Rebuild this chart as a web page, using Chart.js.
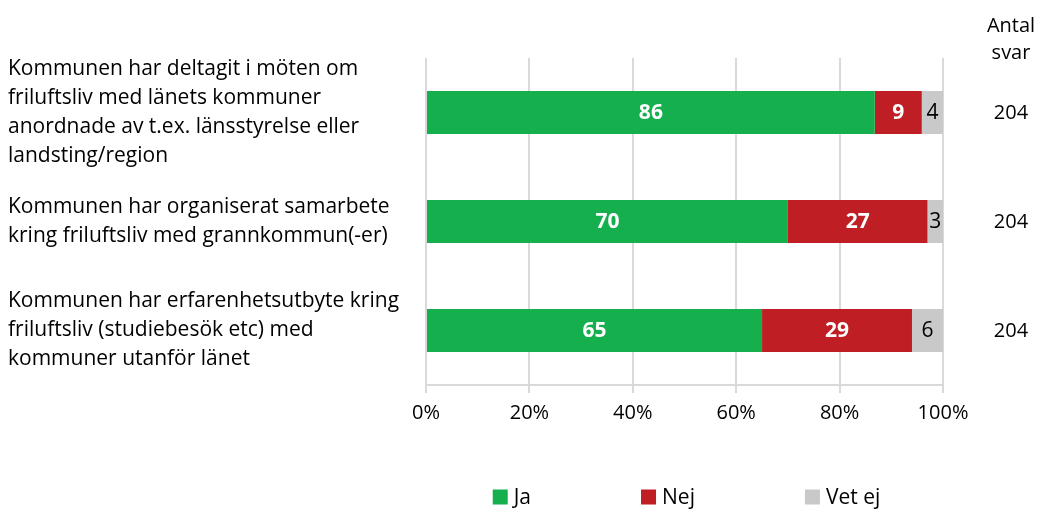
<!DOCTYPE html>
<html>
<head>
<meta charset="utf-8">
<script src="https://cdn.jsdelivr.net/npm/chart.js@4.4.1/dist/chart.umd.min.js"></script>
<style>
  html, body { margin: 0; padding: 0; background: #fff; }
  #wrap { width: 1040px; height: 509px; }
</style>
</head>
<body>
<div id="wrap"><canvas id="chart"></canvas></div>
<script>
const categories = [
  ['Kommunen har deltagit i möten om', 'friluftsliv med länets kommuner', 'anordnade av t.ex. länsstyrelse eller', 'landsting/region'],
  ['Kommunen har organiserat samarbete', 'kring friluftsliv med grannkommun(-er)'],
  ['Kommunen har erfarenhetsutbyte kring', 'friluftsliv (studiebesök etc) med', 'kommuner utanför länet']
];
const seriesNames = ['Ja', 'Nej', 'Vet ej'];
const ja = [86.8, 70, 65];
const nej = [9.1, 27, 29];
const vetEj = [4.1, 3, 6];
const antalSvar = [204, 204, 204];
const antalHeader = ['Antal', 'svar'];

const FONT = '"Open Sans", sans-serif';
const colors = ['#15AF4E', '#BE1E24', '#C9C9C9'];

// numbers inside the bars
const valueLabels = {
  id: 'valueLabels',
  afterDatasetsDraw(chart) {
    const ctx = chart.ctx;
    chart.data.datasets.forEach((ds, i) => {
      chart.getDatasetMeta(i).data.forEach((bar, j) => {
        ctx.save();
        ctx.fillStyle = i < 2 ? '#fff' : '#000';
        ctx.font = (i < 2 ? 'bold ' : '') + '21px ' + FONT;
        ctx.textAlign = 'center';
        ctx.textBaseline = 'middle';
        ctx.fillText(Math.floor(ds.data[j]), (bar.x + bar.base) / 2, bar.y + 1);
        ctx.restore();
      });
    });
  }
};

// "Antal svar" column and custom legend
const extras = {
  id: 'extras',
  afterDraw(chart) {
    const ctx = chart.ctx;
    const area = chart.chartArea;
    const yScale = chart.scales.y;
    const colX = area.right + 68;
    ctx.save();
    ctx.fillStyle = '#000';
    ctx.font = '20px ' + FONT;
    ctx.textAlign = 'center';
    ctx.textBaseline = 'middle';
    antalHeader.forEach((t, k) => ctx.fillText(t, colX, area.top - 32 + k * 27));
    antalSvar.forEach((n, j) => ctx.fillText(n, colX, yScale.getPixelForValue(j) + 1));

    // legend
    ctx.font = '21px ' + FONT;
    ctx.textAlign = 'left';
    const box = 15, gap = 6, spacing = 110;
    const widths = seriesNames.map(s => box + gap + ctx.measureText(s).width);
    const total = widths.reduce((a, b) => a + b, 0) + spacing * (widths.length - 1);
    let x = (area.left + area.right) / 2 - total / 2 + 2;
    const ly = 497;
    seriesNames.forEach((s, i) => {
      ctx.fillStyle = colors[i];
      ctx.fillRect(x, ly - box / 2, box, box);
      ctx.fillStyle = '#000';
      ctx.fillText(s, x + box + gap, ly + 1);
      x += widths[i] + spacing;
    });
    ctx.restore();
  }
};

new Chart(document.getElementById('chart'), {
  type: 'bar',
  data: {
    labels: categories,
    datasets: [
      { label: seriesNames[0], data: ja, backgroundColor: colors[0] },
      { label: seriesNames[1], data: nej, backgroundColor: colors[1] },
      { label: seriesNames[2], data: vetEj, backgroundColor: colors[2] }
    ]
  },
  options: {
    indexAxis: 'y',
    responsive: true,
    maintainAspectRatio: false,
    animation: false,
    layout: { padding: { left: 8, right: 97, top: 58, bottom: 0 } },
    datasets: { bar: { barPercentage: 0.395, categoryPercentage: 1 } },
    plugins: { legend: { display: false }, tooltip: { enabled: false } },
    scales: {
      x: {
        stacked: true,
        min: 0,
        max: 100,
        ticks: {
          stepSize: 20,
          color: '#000',
          font: { family: FONT, size: 20 },
          padding: 8,
          maxRotation: 0,
          callback: v => v + '%'
        },
        grid: { color: '#D9D9D9', lineWidth: 2, tickLength: 8 },
        border: { color: '#D9D9D9', width: 2 },
        afterFit: s => { s.height = 124; }
      },
      y: {
        stacked: true,
        ticks: {
          autoSkip: false,
          crossAlign: 'far',
          color: '#000',
          font: { family: FONT, size: 21, lineHeight: 29 / 21 }
        },
        grid: { display: false },
        border: { display: false },
        afterFit: s => { s.width = 418; }
      }
    }
  },
  plugins: [valueLabels, extras]
});
</script>
</body>
</html>
